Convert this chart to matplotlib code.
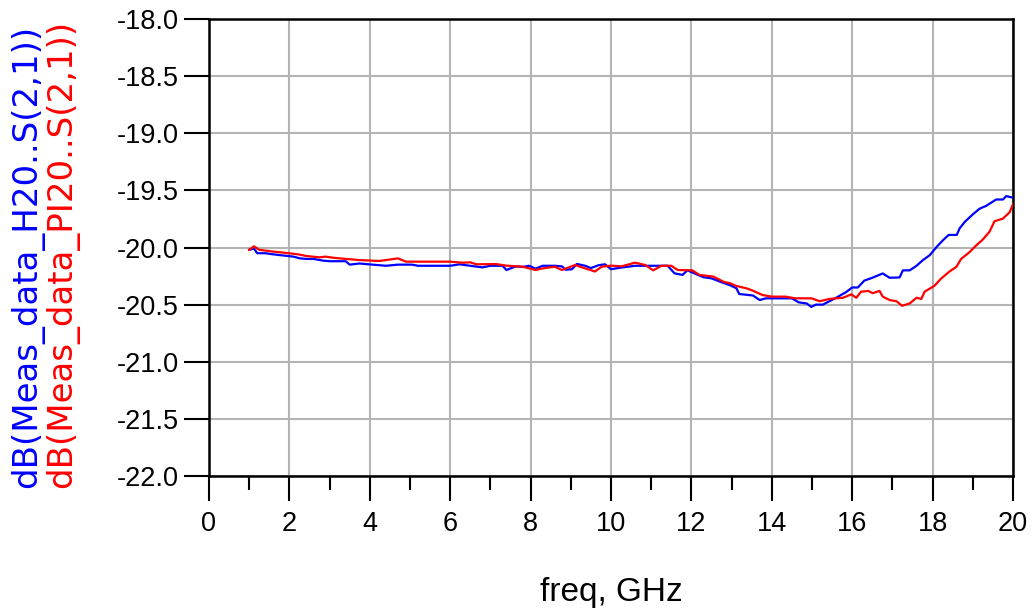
import matplotlib
matplotlib.use("Agg")
import matplotlib.pyplot as plt
from matplotlib.ticker import MultipleLocator

plt.rcParams['font.family'] = ['Liberation Sans', 'DejaVu Sans']

# freq in GHz, S21 in dB
freq_h20 = [1.0, 1.12, 1.2, 1.4, 1.6, 1.85, 2.1, 2.26, 2.43, 2.6, 2.84, 3.0, 3.4, 3.5,
            3.74, 4.07, 4.4, 4.7, 5.05, 5.2, 5.7, 6.0, 6.23, 6.5, 6.8, 7.0, 7.3, 7.4,
            7.63, 7.8, 7.96, 8.12, 8.3, 8.6, 8.78, 8.87, 9.03, 9.15, 9.36, 9.5, 9.69,
            9.85, 10.0, 10.27, 10.6, 11.41, 11.58, 11.78, 11.9, 12.07, 12.3, 12.5,
            12.72, 12.96, 13.12, 13.19, 13.53, 13.7, 13.85, 14.18, 14.5, 14.67, 14.87,
            14.98, 15.1, 15.27, 15.6, 15.85, 16.0, 16.14, 16.3, 16.5, 16.76, 16.93,
            17.18, 17.26, 17.43, 17.6, 17.76, 17.93, 18.1, 18.26, 18.4, 18.6, 18.67,
            18.8, 19.0, 19.17, 19.33, 19.58, 19.75, 19.83, 20.0]
s21_h20 = [-20.02, -20.01, -20.05, -20.05, -20.06, -20.07, -20.08, -20.095, -20.1,
           -20.1, -20.115, -20.12, -20.12, -20.15, -20.14, -20.15, -20.16, -20.15,
           -20.15, -20.16, -20.16, -20.16, -20.147, -20.16, -20.174, -20.16, -20.16,
           -20.197, -20.165, -20.17, -20.16, -20.185, -20.16, -20.16, -20.165, -20.195,
           -20.19, -20.144, -20.16, -20.18, -20.155, -20.147, -20.19, -20.175, -20.16,
           -20.16, -20.226, -20.24, -20.2, -20.226, -20.26, -20.27, -20.3, -20.33,
           -20.357, -20.407, -20.42, -20.46, -20.445, -20.445, -20.445, -20.48, -20.49,
           -20.52, -20.5, -20.5, -20.44, -20.39, -20.35, -20.35, -20.29, -20.265,
           -20.227, -20.265, -20.262, -20.2, -20.2, -20.16, -20.11, -20.067, -19.995,
           -19.936, -19.89, -19.89, -19.834, -19.776, -19.71, -19.66, -19.636, -19.58,
           -19.58, -19.55, -19.564]

freq_pi20 = [1.0, 1.12, 1.25, 1.6, 1.85, 2.22, 2.43, 2.75, 2.9, 3.1, 3.4, 3.74, 4.23,
             4.4, 4.7, 4.9, 5.7, 6.0, 6.31, 6.5, 6.65, 7.14, 7.4, 7.8, 8.12, 8.3, 8.6,
             8.78, 9.11, 9.28, 9.6, 9.77, 10.0, 10.26, 10.6, 10.85, 11.05, 11.25, 11.5,
             11.66, 12.02, 12.2, 12.55, 12.8, 12.96, 13.12, 13.37, 13.53, 13.77, 14.0,
             14.34, 14.59, 14.99, 15.19, 15.44, 15.77, 15.98, 16.1, 16.22, 16.4, 16.51,
             16.68, 16.76, 16.93, 17.1, 17.24, 17.43, 17.6, 17.72, 17.8, 18.05, 18.2,
             18.42, 18.59, 18.71, 18.92, 19.09, 19.25, 19.42, 19.54, 19.75, 19.92, 20.0]
s21_pi20 = [-20.02, -19.99, -20.02, -20.036, -20.045, -20.06, -20.075, -20.086, -20.08,
            -20.09, -20.1, -20.11, -20.118, -20.11, -20.095, -20.124, -20.124, -20.124,
            -20.133, -20.13, -20.147, -20.145, -20.159, -20.168, -20.197, -20.183,
            -20.168, -20.197, -20.153, -20.174, -20.21, -20.168, -20.159, -20.165,
            -20.133, -20.153, -20.2, -20.16, -20.16, -20.197, -20.2, -20.24, -20.255,
            -20.3, -20.313, -20.337, -20.357, -20.378, -20.416, -20.43, -20.43, -20.445,
            -20.445, -20.47, -20.45, -20.44, -20.41, -20.44, -20.387, -20.38, -20.4,
            -20.38, -20.43, -20.46, -20.47, -20.51, -20.49, -20.44, -20.45, -20.387,
            -20.334, -20.276, -20.21, -20.17, -20.1, -20.04, -19.98, -19.93, -19.86,
            -19.77, -19.747, -19.69, -19.62]

label_h20 = "dB(Meas_data_H20..S(2,1))"
label_pi20 = "dB(Meas_data_PI20..S(2,1))"

fig = plt.figure(figsize=(10.32, 6.11), dpi=100)
ax = fig.add_axes([209 / 1032, 1 - 476 / 611, (1013 - 209) / 1032, (476 - 19) / 611])

ax.plot(freq_h20, s21_h20, color='#0000ff', lw=1.6, zorder=3)
ax.plot(freq_pi20, s21_pi20, color='#ff0000', lw=1.6, zorder=3)

ax.set_xlim(0, 20)
ax.set_ylim(-22, -18)
ax.xaxis.set_major_locator(MultipleLocator(2))
ax.xaxis.set_minor_locator(MultipleLocator(1))
ax.yaxis.set_major_locator(MultipleLocator(0.5))
ax.yaxis.set_major_formatter(plt.FormatStrFormatter('%.1f'))

ax.grid(True, which='major', color='#b4b4b4', lw=1.5)
ax.set_axisbelow(True)
for s in ax.spines.values():
    s.set_linewidth(1.8)
    s.set_color('black')

ax.tick_params(axis='both', which='major', direction='out', length=18, width=1.5,
               labelsize=19.5, colors='black')
ax.tick_params(axis='x', which='major', pad=7)
ax.tick_params(axis='y', which='major', pad=4)
ax.tick_params(axis='x', which='minor', direction='out', length=10, width=1.5)

ax.set_xlabel("freq, GHz", fontsize=24, labelpad=29)

# stacked y labels, one per trace, in trace colour
fig.text(27 / 1032, 1 - 488 / 611, label_h20, rotation=90, color='#0000ff',
         fontsize=24.5, family='DejaVu Sans', ha='center', va='bottom')
fig.text(62 / 1032, 1 - 488 / 611, label_pi20, rotation=90, color='#ff0000',
         fontsize=24.5, family='DejaVu Sans', ha='center', va='bottom')

fig.savefig("out.png", dpi=100)
